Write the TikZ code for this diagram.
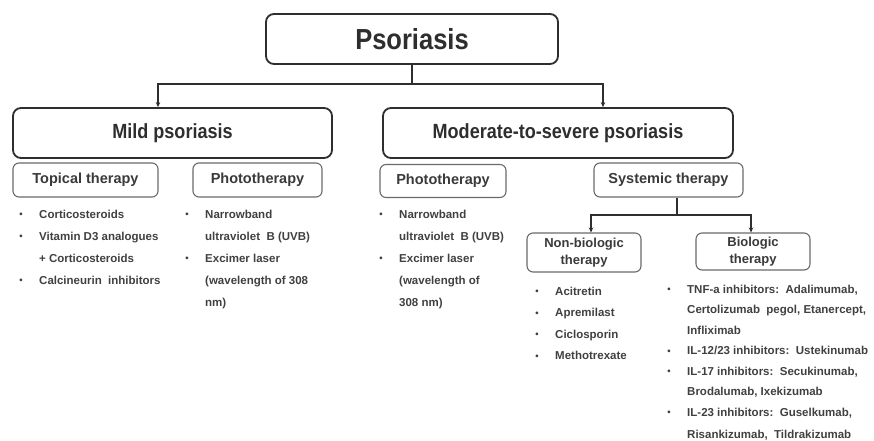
\documentclass[tikz,border=0pt]{standalone}
\usepackage{fontspec}
\setmainfont{Liberation Sans}
\newfontfamily\hdfont[FakeStretch=0.88]{Liberation Sans}
\usetikzlibrary{arrows.meta}
\definecolor{ink}{HTML}{2E2E2E}
\definecolor{subink}{HTML}{3A3A3A}
\definecolor{listink}{HTML}{404040}
\definecolor{subline}{HTML}{6A6A6A}
\tikzset{
  mainbox/.style={draw=ink, line width=1.8pt, rounded corners=8pt, fill=white,
    text=ink, font=\hdfont\bfseries\fontsize{20.5pt}{24pt}\selectfont, inner sep=0pt},
  subbox/.style={draw=subline, line width=1.1pt, rounded corners=6pt, fill=white,
    text=subink, font=\bfseries\fontsize{14.5pt}{17pt}\selectfont, inner sep=0pt},
  twobox/.style={subbox, align=center, font=\bfseries\fontsize{13pt}{16.5pt}\selectfont},
  li/.style={anchor=base west, inner sep=0pt, text=listink,
    font=\bfseries\fontsize{11.5pt}{14pt}\selectfont},
  conn/.style={draw=ink, line width=1.2pt},
  arr/.style={conn, -{Stealth[length=5pt,width=4.5pt]}},
}
\newcommand{\bul}{\llap{\raisebox{0.4pt}{\fontsize{9.5pt}{9.5pt}\selectfont\textbullet}\hspace{16.5pt}}}
\begin{document}
\begin{tikzpicture}[x=1pt,y=-1pt]
\useasboundingbox (0,0) rectangle (874,441);
% main boxes
\node[mainbox, minimum width=292pt, minimum height=50pt,
  font=\hdfont\bfseries\fontsize{29pt}{32pt}\selectfont] (pso) at (412,39) {Psoriasis};
\node[mainbox, minimum width=319pt, minimum height=50pt] (mild) at (172.5,133) {Mild psoriasis};
\node[mainbox, minimum width=350pt, minimum height=50pt] (mod) at (558,133) {Moderate-to-severe psoriasis};
% sub boxes
\node[subbox, minimum width=145pt, minimum height=34pt] (top) at (85.5,180) {Topical therapy};
\node[subbox, minimum width=129pt, minimum height=34pt] (phl) at (257.5,180) {Phototherapy};
\node[subbox, minimum width=126pt, minimum height=33pt] (phr) at (443,181) {Phototherapy};
\node[subbox, minimum width=149pt, minimum height=34pt] (sys) at (668.5,180) {Systemic therapy};
\node[twobox, minimum width=114pt, minimum height=39pt] (nonbio) at (584,252.5) {Non-biologic\\therapy};
\node[twobox, minimum width=114pt, minimum height=37pt] (bio) at (753,251.5) {Biologic\\therapy};
% connectors top
\coordinate (j1) at (412,84);
\path (mild.north) ++(-14.5,0) coordinate (ma);
\path (mod.north) ++(45,0) coordinate (mb);
\draw[conn] (pso.south) -- (j1);
\draw[arr] (j1) -| (ma);
\draw[arr] (j1) -| (mb);
% connectors systemic
\path (sys.south) ++(8.5,0) coordinate (s0);
\coordinate (j2) at (677,215);
\path (nonbio.north) ++(7,0) coordinate (na);
\path (bio.north) ++(-2,0) coordinate (ba);
\draw[conn] (s0) -- (j2);
\draw[arr] (j2) -| (na);
\draw[arr] (j2) -| (ba);
% topical list
\node[li] (t1) at (39,218) {\bul Corticosteroids};
\node[li] (t2) at (39,240) {\bul Vitamin D3 analogues};
\node[li] (t3) at (39,262) {+ Corticosteroids};
\node[li] (t4) at (39,284) {\bul Calcineurin\ \ inhibitors};
% phototherapy left list
\node[li] (pl1) at (205,218) {\bul Narrowband};
\node[li] (pl2) at (205,240) {ultraviolet\ \ B (UVB)};
\node[li] (pl3) at (205,262) {\bul Excimer laser};
\node[li] (pl4) at (205,284) {(wavelength of 308};
\node[li] (pl5) at (205,306) {nm)};
% phototherapy right list
\node[li] (pr1) at (399,218) {\bul Narrowband};
\node[li] (pr2) at (399,240) {ultraviolet\ \ B (UVB)};
\node[li] (pr3) at (399,262) {\bul Excimer laser};
\node[li] (pr4) at (399,284) {(wavelength of};
\node[li] (pr5) at (399,306) {308 nm)};
% non-biologic list
\node[li] (n1) at (555,295) {\bul Acitretin};
\node[li] (n2) at (555,316.5) {\bul Apremilast};
\node[li] (n3) at (555,338) {\bul Ciclosporin};
\node[li] (n4) at (555,359.5) {\bul Methotrexate};
% biologic list
\node[li] (b1) at (687,293) {\bul TNF-a inhibitors:\ \ Adalimumab,};
\node[li] (b2) at (687,313.5) {Certolizumab\ \ pegol, Etanercept,};
\node[li] (b3) at (687,334) {Infliximab};
\node[li] (b4) at (687,354.5) {\bul IL-12/23 inhibitors:\ \ Ustekinumab};
\node[li] (b5) at (687,375) {\bul IL-17 inhibitors:\ \ Secukinumab,};
\node[li] (b6) at (687,395.5) {Brodalumab, Ixekizumab};
\node[li] (b7) at (687,416) {\bul IL-23 inhibitors:\ \ Guselkumab,};
\node[li] (b8) at (687,438.5) {Risankizumab,\ \ Tildrakizumab};
\end{tikzpicture}
\end{document}
